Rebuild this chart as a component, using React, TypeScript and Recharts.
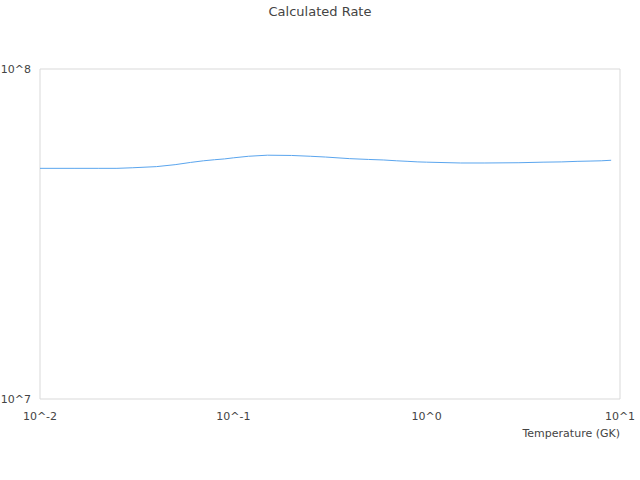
import React from 'react';
import { LineChart, Line, XAxis, YAxis, Label, ReferenceArea } from 'recharts';

// temperatures (GK) and calculated rate
const temperatures = [
  0.01, 0.015, 0.02, 0.025, 0.03, 0.04, 0.05, 0.06, 0.07, 0.08, 0.09, 0.1, 0.12, 0.15, 0.2, 0.25,
  0.3, 0.4, 0.5, 0.6, 0.7, 0.8, 0.9, 1, 1.5, 2, 3, 4, 5, 6, 7, 8, 9,
];
const rates = [
  5.0e7, 5.0e7, 5.0e7, 5.0e7, 5.02e7, 5.06e7, 5.13e7, 5.21e7, 5.27e7, 5.31e7, 5.34e7, 5.38e7,
  5.44e7, 5.48e7, 5.47e7, 5.44e7, 5.41e7, 5.35e7, 5.32e7, 5.3e7, 5.27e7, 5.25e7, 5.23e7, 5.22e7,
  5.19e7, 5.19e7, 5.2e7, 5.22e7, 5.23e7, 5.25e7, 5.26e7, 5.27e7, 5.29e7,
];
const xTicks = [0.01, 0.1, 1, 10];
const yTicks = [1e7, 1e8];

const data = temperatures.map((t, i) => ({ t, rate: rates[i] }));

const FONT = 'DejaVu Sans';
const TEXT = '#444';
const BORDER = '#d9d9d9';

const powLabel = (v: number) => `10^${Math.round(Math.log10(v))}`;

export default function App() {
  return (
    <div style={{ position: 'absolute', left: 0, top: 0, width: 640, height: 480, fontFamily: FONT }}>
      <div
        style={{
          position: 'absolute',
          top: 4,
          left: 0,
          width: 640,
          textAlign: 'center',
          fontSize: 13,
          lineHeight: '15px',
          color: TEXT,
        }}
      >
        Calculated Rate
      </div>
      <LineChart width={640} height={480} data={data} margin={{ top: 69, right: 20, bottom: 41, left: 0 }}>
        <XAxis
          dataKey="t"
          type="number"
          scale="log"
          domain={[0.01, 10]}
          ticks={xTicks}
          tickFormatter={powLabel}
          allowDataOverflow
          height={40}
          tickLine={false}
          tickMargin={7}
          axisLine={false}
          tick={{ fill: TEXT, fontSize: 11, fontFamily: FONT }}
          interval={0}
        >
          <Label
            content={({ viewBox }: any) => (
              <text
                x={viewBox.x + viewBox.width}
                y={viewBox.y + 38}
                textAnchor="end"
                fill={TEXT}
                fontSize={11}
                fontFamily={FONT}
              >
                Temperature (GK)
              </text>
            )}
          />
        </XAxis>
        <YAxis
          type="number"
          scale="log"
          domain={[1e7, 1e8]}
          ticks={yTicks}
          tickFormatter={powLabel}
          allowDataOverflow
          width={40}
          tickLine={false}
          tickMargin={3}
          axisLine={false}
          tick={{ fill: TEXT, fontSize: 11, fontFamily: FONT }}
          interval={0}
        />
        {/* plot frame */}
        <ReferenceArea
          x1={0.01}
          x2={10}
          y1={1e7}
          y2={1e8}
          fill="none"
          fillOpacity={0}
          stroke={BORDER}
          strokeWidth={1}
          ifOverflow="visible"
        />
        <Line
          dataKey="rate"
          type="linear"
          stroke="#5aa5ee"
          strokeWidth={1}
          dot={false}
          isAnimationActive={false}
        />
      </LineChart>
    </div>
  );
}
